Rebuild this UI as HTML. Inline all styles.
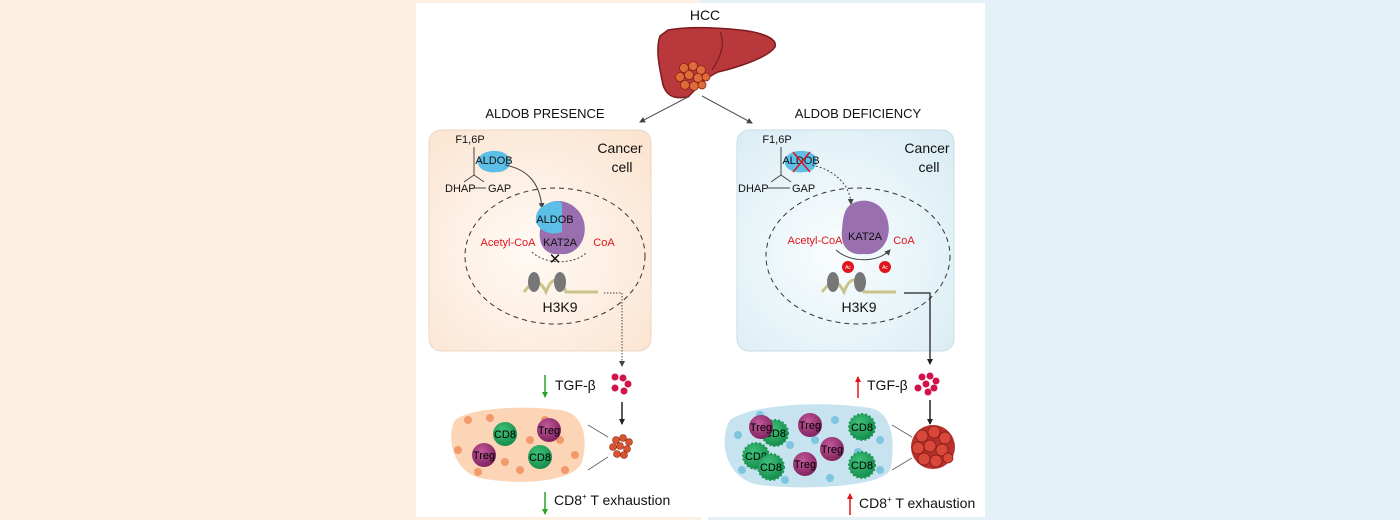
<!DOCTYPE html>
<html><head><meta charset="utf-8"><style>
html,body{margin:0;padding:0;width:1400px;height:520px;overflow:hidden;background:#fff}
svg{display:block}
text{font-family:"Liberation Sans",sans-serif}
</style></head><body>
<svg width="1400" height="520" viewBox="0 0 1400 520" xmlns="http://www.w3.org/2000/svg">
<defs>
<radialGradient id="gp" cx="0.45" cy="0.55" r="0.75"><stop offset="0" stop-color="#fffaf5"/><stop offset="1" stop-color="#fbe3cf"/></radialGradient>
<radialGradient id="gb" cx="0.45" cy="0.55" r="0.75"><stop offset="0" stop-color="#fafdfe"/><stop offset="1" stop-color="#d8ecf3"/></radialGradient>
<radialGradient id="tr" cx="0.4" cy="0.35" r="0.7"><stop offset="0" stop-color="#c25a9c"/><stop offset="1" stop-color="#7d1f5a"/></radialGradient>
<radialGradient id="cd" cx="0.4" cy="0.35" r="0.7"><stop offset="0" stop-color="#3fc27a"/><stop offset="1" stop-color="#138a4a"/></radialGradient>
<marker id="ah" markerWidth="6" markerHeight="6" refX="5" refY="3" orient="auto" markerUnits="userSpaceOnUse"><path d="M0,0 L6,3 L0,6 z" fill="#222"/></marker>
<marker id="ahs" markerWidth="6" markerHeight="6" refX="5" refY="3" orient="auto" markerUnits="userSpaceOnUse"><path d="M0,0 L6,3 L0,6 z" fill="#444"/></marker>
<marker id="ahg" markerWidth="6" markerHeight="6" refX="5" refY="3" orient="auto" markerUnits="userSpaceOnUse"><path d="M0,0 L6,3 L0,6 z" fill="#2aa52a"/></marker>
<marker id="ahr" markerWidth="6" markerHeight="6" refX="5" refY="3" orient="auto" markerUnits="userSpaceOnUse"><path d="M0,0 L6,3 L0,6 z" fill="#e0141c"/></marker>
</defs>
<rect x="0" y="0" width="416" height="520" fill="#fdefe2"/>
<rect x="985" y="0" width="415" height="520" fill="#e4f1f7"/>
<rect x="416" y="0" width="285" height="3" fill="#fdefe2"/>
<rect x="701" y="0" width="284" height="3" fill="#e4f1f7"/>
<rect x="416" y="517" width="285" height="3" fill="#fdefe2"/>
<rect x="708" y="517" width="277" height="3" fill="#e4f1f7"/>
<text x="705" y="20" font-size="14" text-anchor="middle" fill="#111">HCC</text>
<path d="M668,30 C690,26 720,28 740,30 C760,32 778,38 775,47 C768,58 735,68 718,72 C705,78 697,88 688,97 C680,98 668,100 663,85 C660,70 655,50 660,36 Z" fill="#b8383c" stroke="#7c1c1f" stroke-width="1.5"/>
<path d="M720,32 C726,44 720,58 712,70" fill="none" stroke="#7c1c1f" stroke-width="1.2"/>
<g fill="#e06a3a" stroke="#8a2416" stroke-width="0.8">
<circle cx="684" cy="68" r="4.5"/><circle cx="693" cy="66" r="4.5"/><circle cx="701" cy="70" r="4.5"/><circle cx="680" cy="77" r="4.5"/><circle cx="689" cy="75" r="4.5"/><circle cx="698" cy="78" r="4.5"/><circle cx="706" cy="77" r="4"/><circle cx="685" cy="85" r="4.5"/><circle cx="694" cy="86" r="4.5"/><circle cx="702" cy="85" r="4"/>
</g>
<line x1="688" y1="97" x2="640" y2="122" stroke="#555" stroke-width="1" marker-end="url(#ahs)"/>
<line x1="702" y1="96" x2="752" y2="123" stroke="#555" stroke-width="1" marker-end="url(#ahs)"/>
<text x="545" y="118" font-size="13" text-anchor="middle" fill="#111">ALDOB PRESENCE</text>
<text x="858" y="118" font-size="13" text-anchor="middle" fill="#111">ALDOB DEFICIENCY</text>
<rect x="429" y="130" width="222" height="221" rx="12" fill="url(#gp)" stroke="#ead7c6"/>
<rect x="737" y="130" width="217" height="221" rx="12" fill="url(#gb)" stroke="#c9dde6"/>
<text x="620" y="153" font-size="14" text-anchor="middle" fill="#111">Cancer</text>
<text x="622" y="172" font-size="14" text-anchor="middle" fill="#111">cell</text>
<text x="470" y="143" font-size="11" text-anchor="middle" fill="#111">F1,6P</text>
<path d="M474,175 L474,147 M474,175 L464,182 M474,175 L484,182" stroke="#444" fill="none"/>
<path d="M478,160 C480,150 500,148 507,155 C515,162 508,172 498,172 C486,174 476,168 478,160Z" fill="#5cbfe8"/>
<text x="494" y="164" font-size="11" text-anchor="middle" fill="#111">ALDOB</text>
<text x="445" y="192" font-size="11" fill="#111">DHAP</text>
<text x="488" y="192" font-size="11" fill="#111">GAP</text>
<line x1="473" y1="188" x2="486" y2="188" stroke="#444"/>
<path d="M505,165 C530,170 540,185 542,208" stroke="#444" fill="none" marker-end="url(#ahs)"/>
<ellipse cx="555" cy="256" rx="90" ry="68" fill="none" stroke="#333" stroke-dasharray="5,4"/>
<path d="M545,205 C560,195 580,205 584,222 C588,240 576,256 560,254 C546,256 538,245 540,230 Z" fill="#9a6fb0"/>
<path d="M545,205 C553,200 562,200 562,205 L562,232 C552,236 540,232 536,222 C535,212 540,207 545,205Z" fill="#5cbfe8"/>
<text x="555" y="223" font-size="11" text-anchor="middle" fill="#111">ALDOB</text>
<text x="560" y="246" font-size="11" text-anchor="middle" fill="#111">KAT2A</text>
<text x="508" y="246" font-size="11" text-anchor="middle" fill="#e0141c">Acetyl-CoA</text>
<text x="604" y="246" font-size="11" text-anchor="middle" fill="#e0141c">CoA</text>
<path d="M532,252 C545,265 575,265 587,252" stroke="#444" stroke-dasharray="2,2" fill="none"/>
<text x="555" y="264" font-size="15" text-anchor="middle" fill="#111">✕</text>
<g fill="none" stroke="#c9c48a" stroke-width="3"><path d="M524,292 C532,282 538,276 546,292 C552,276 560,276 566,292 L598,292"/></g>
<ellipse cx="534" cy="282" rx="6" ry="10" fill="#777"/><ellipse cx="560" cy="282" rx="6" ry="10" fill="#777"/>
<text x="560" y="312" font-size="14" text-anchor="middle" fill="#111">H3K9</text>
<path d="M604,293 L622,293 L622,366" stroke="#444" stroke-dasharray="1.5,1.5" fill="none" marker-end="url(#ahs)"/>
<line x1="545" y1="375" x2="545" y2="397" stroke="#2aa52a" stroke-width="1.5" marker-end="url(#ahg)"/>
<text x="555" y="390" font-size="14" fill="#111">TGF-β</text>
<g fill="#d0134a"><circle cx="615" cy="377" r="3.5"/><circle cx="623" cy="378" r="3.5"/><circle cx="628" cy="384" r="3.5"/><circle cx="615" cy="388" r="3.5"/><circle cx="624" cy="391" r="3.5"/></g>
<line x1="622" y1="402" x2="622" y2="424" stroke="#222" stroke-width="1.5" marker-end="url(#ah)"/>
<path d="M455,420 C470,408 520,405 560,410 C585,413 588,440 582,462 C575,482 520,486 480,478 C455,472 445,440 455,420Z" fill="#fcd4b6"/>
<g fill="#f39a6c"><circle cx="468" cy="420" r="4"/><circle cx="490" cy="418" r="4"/><circle cx="510" cy="430" r="4"/><circle cx="530" cy="440" r="4"/><circle cx="560" cy="440" r="4"/><circle cx="575" cy="455" r="4"/><circle cx="458" cy="450" r="4"/><circle cx="505" cy="462" r="4"/><circle cx="545" cy="420" r="4"/><circle cx="478" cy="472" r="4"/><circle cx="520" cy="470" r="4"/><circle cx="565" cy="470" r="4"/></g>
<circle cx="505" cy="434" r="12" fill="url(#cd)"/><text x="505" y="438" font-size="11" text-anchor="middle">CD8</text>
<circle cx="549" cy="430" r="12" fill="url(#tr)"/><text x="549" y="434" font-size="11" text-anchor="middle">Treg</text>
<circle cx="484" cy="455" r="12" fill="url(#tr)"/><text x="484" y="459" font-size="11" text-anchor="middle">Treg</text>
<circle cx="540" cy="457" r="12" fill="url(#cd)"/><text x="540" y="461" font-size="11" text-anchor="middle">CD8</text>
<line x1="588" y1="425" x2="608" y2="437" stroke="#666"/><line x1="588" y1="470" x2="608" y2="457" stroke="#666"/>
<g fill="#d9532c" stroke="#8a2416" stroke-width="0.6"><circle cx="616" cy="440" r="3.5"/><circle cx="623" cy="438" r="3.5"/><circle cx="629" cy="442" r="3.5"/><circle cx="613" cy="447" r="3.5"/><circle cx="620" cy="446" r="3.5"/><circle cx="627" cy="449" r="3.5"/><circle cx="617" cy="454" r="3.5"/><circle cx="624" cy="455" r="3.5"/></g>
<line x1="545" y1="492" x2="545" y2="514" stroke="#2aa52a" stroke-width="1.5" marker-end="url(#ahg)"/>
<text x="554" y="505" font-size="14" fill="#111">CD8<tspan font-size="8" dy="-6">+</tspan><tspan dy="6"> T exhaustion</tspan></text>
<text x="927" y="153" font-size="14" text-anchor="middle" fill="#111">Cancer</text>
<text x="929" y="172" font-size="14" text-anchor="middle" fill="#111">cell</text>
<text x="777" y="143" font-size="11" text-anchor="middle" fill="#111">F1,6P</text>
<path d="M781,175 L781,147 M781,175 L771,182 M781,175 L791,182" stroke="#444" fill="none"/>
<path d="M785,160 C787,150 807,148 814,155 C820,162 815,172 805,172 C793,174 783,168 785,160Z" fill="#5cbfe8"/>
<text x="801" y="164" font-size="11" text-anchor="middle" fill="#111">ALDOB</text>
<path d="M793,152 L810,172 M810,152 L793,172" stroke="#e0141c" stroke-width="1.5"/>
<text x="738" y="192" font-size="11" fill="#111">DHAP</text>
<text x="792" y="192" font-size="11" fill="#111">GAP</text>
<line x1="767" y1="188" x2="790" y2="188" stroke="#444"/>
<path d="M812,165 C835,170 850,185 851,204" stroke="#444" stroke-dasharray="2,2" fill="none" marker-end="url(#ahs)"/>
<ellipse cx="858" cy="256" rx="92" ry="68" fill="none" stroke="#333" stroke-dasharray="5,4"/>
<path d="M850,205 C865,195 885,203 888,222 C892,240 880,256 864,254 C848,256 840,245 842,230 C843,218 844,210 850,205 Z" fill="#9a6fb0"/>
<text x="865" y="240" font-size="11" text-anchor="middle" fill="#111">KAT2A</text>
<text x="815" y="244" font-size="11" text-anchor="middle" fill="#e0141c">Acetyl-CoA</text>
<text x="904" y="244" font-size="11" text-anchor="middle" fill="#e0141c">CoA</text>
<path d="M836,250 C850,263 878,263 890,250" stroke="#444" fill="none" marker-end="url(#ahs)"/>
<g fill="none" stroke="#c9c48a" stroke-width="3"><path d="M822,292 C830,282 836,276 844,292 C850,276 858,276 864,292 L896,292"/></g>
<ellipse cx="833" cy="282" rx="6" ry="10" fill="#777"/><ellipse cx="860" cy="282" rx="6" ry="10" fill="#777"/>
<circle cx="848" cy="267" r="6" fill="#e0141c"/><circle cx="885" cy="267" r="6" fill="#e0141c"/>
<text x="848" y="269" font-size="5" text-anchor="middle" fill="#fff">Ac</text><text x="885" y="269" font-size="5" text-anchor="middle" fill="#fff">Ac</text>
<text x="859" y="312" font-size="14" text-anchor="middle" fill="#111">H3K9</text>
<path d="M904,293 L930,293 L930,364" stroke="#222" stroke-width="1.3" fill="none" marker-end="url(#ah)"/>
<line x1="858" y1="398" x2="858" y2="377" stroke="#e0141c" stroke-width="1.5" marker-end="url(#ahr)"/>
<text x="867" y="390" font-size="14" fill="#111">TGF-β</text>
<g fill="#d0134a"><circle cx="922" cy="377" r="3.5"/><circle cx="930" cy="376" r="3.5"/><circle cx="936" cy="381" r="3.5"/><circle cx="926" cy="384" r="3.5"/><circle cx="934" cy="388" r="3.5"/><circle cx="928" cy="392" r="3.5"/><circle cx="918" cy="388" r="3.5"/></g>
<line x1="930" y1="400" x2="930" y2="424" stroke="#222" stroke-width="1.5" marker-end="url(#ah)"/>
<path d="M730,420 C750,405 820,400 870,408 C895,412 895,450 890,470 C880,488 800,490 760,485 C725,480 718,440 730,420Z" fill="#c6e3ef"/>
<g fill="#7fc5e0"><circle cx="738" cy="435" r="4"/><circle cx="760" cy="415" r="4"/><circle cx="815" cy="440" r="4"/><circle cx="835" cy="420" r="4"/><circle cx="880" cy="440" r="4"/><circle cx="742" cy="470" r="4"/><circle cx="790" cy="445" r="4"/><circle cx="830" cy="478" r="4"/><circle cx="880" cy="470" r="4"/><circle cx="858" cy="452" r="4"/><circle cx="785" cy="480" r="4"/></g>
<g font-size="11" text-anchor="middle">
<circle cx="775" cy="433" r="13" fill="url(#cd)" stroke="#1d9a55" stroke-width="2" stroke-dasharray="2,2"/><text x="775" y="437">CD8</text>
<circle cx="761" cy="427" r="12" fill="url(#tr)"/><text x="761" y="431">Treg</text>
<circle cx="810" cy="425" r="12" fill="url(#tr)"/><text x="810" y="429">Treg</text>
<circle cx="862" cy="427" r="13" fill="url(#cd)" stroke="#1d9a55" stroke-width="2" stroke-dasharray="2,2"/><text x="862" y="431">CD8</text>
<circle cx="832" cy="449" r="12" fill="url(#tr)"/><text x="832" y="453">Treg</text>
<circle cx="756" cy="456" r="13" fill="url(#cd)" stroke="#1d9a55" stroke-width="2" stroke-dasharray="2,2"/><text x="756" y="460">CD8</text>
<circle cx="771" cy="467" r="13" fill="url(#cd)" stroke="#1d9a55" stroke-width="2" stroke-dasharray="2,2"/><text x="771" y="471">CD8</text>
<circle cx="805" cy="464" r="12" fill="url(#tr)"/><text x="805" y="468">Treg</text>
<circle cx="862" cy="465" r="13" fill="url(#cd)" stroke="#1d9a55" stroke-width="2" stroke-dasharray="2,2"/><text x="862" y="469">CD8</text>
</g>
<line x1="892" y1="425" x2="912" y2="437" stroke="#666"/><line x1="892" y1="470" x2="912" y2="458" stroke="#666"/>
<circle cx="933" cy="447" r="22" fill="#b8302a"/>
<g fill="#d9473a" stroke="#7a1a14" stroke-width="0.7"><circle cx="922" cy="436" r="6"/><circle cx="934" cy="432" r="6"/><circle cx="945" cy="438" r="6"/><circle cx="918" cy="448" r="6"/><circle cx="930" cy="446" r="6"/><circle cx="942" cy="450" r="6"/><circle cx="924" cy="459" r="6"/><circle cx="936" cy="461" r="6"/><circle cx="948" cy="458" r="5"/></g>
<line x1="850" y1="515" x2="850" y2="494" stroke="#e0141c" stroke-width="1.5" marker-end="url(#ahr)"/>
<text x="859" y="508" font-size="14" fill="#111">CD8<tspan font-size="8" dy="-6">+</tspan><tspan dy="6"> T exhaustion</tspan></text>
</svg>
</body></html>
